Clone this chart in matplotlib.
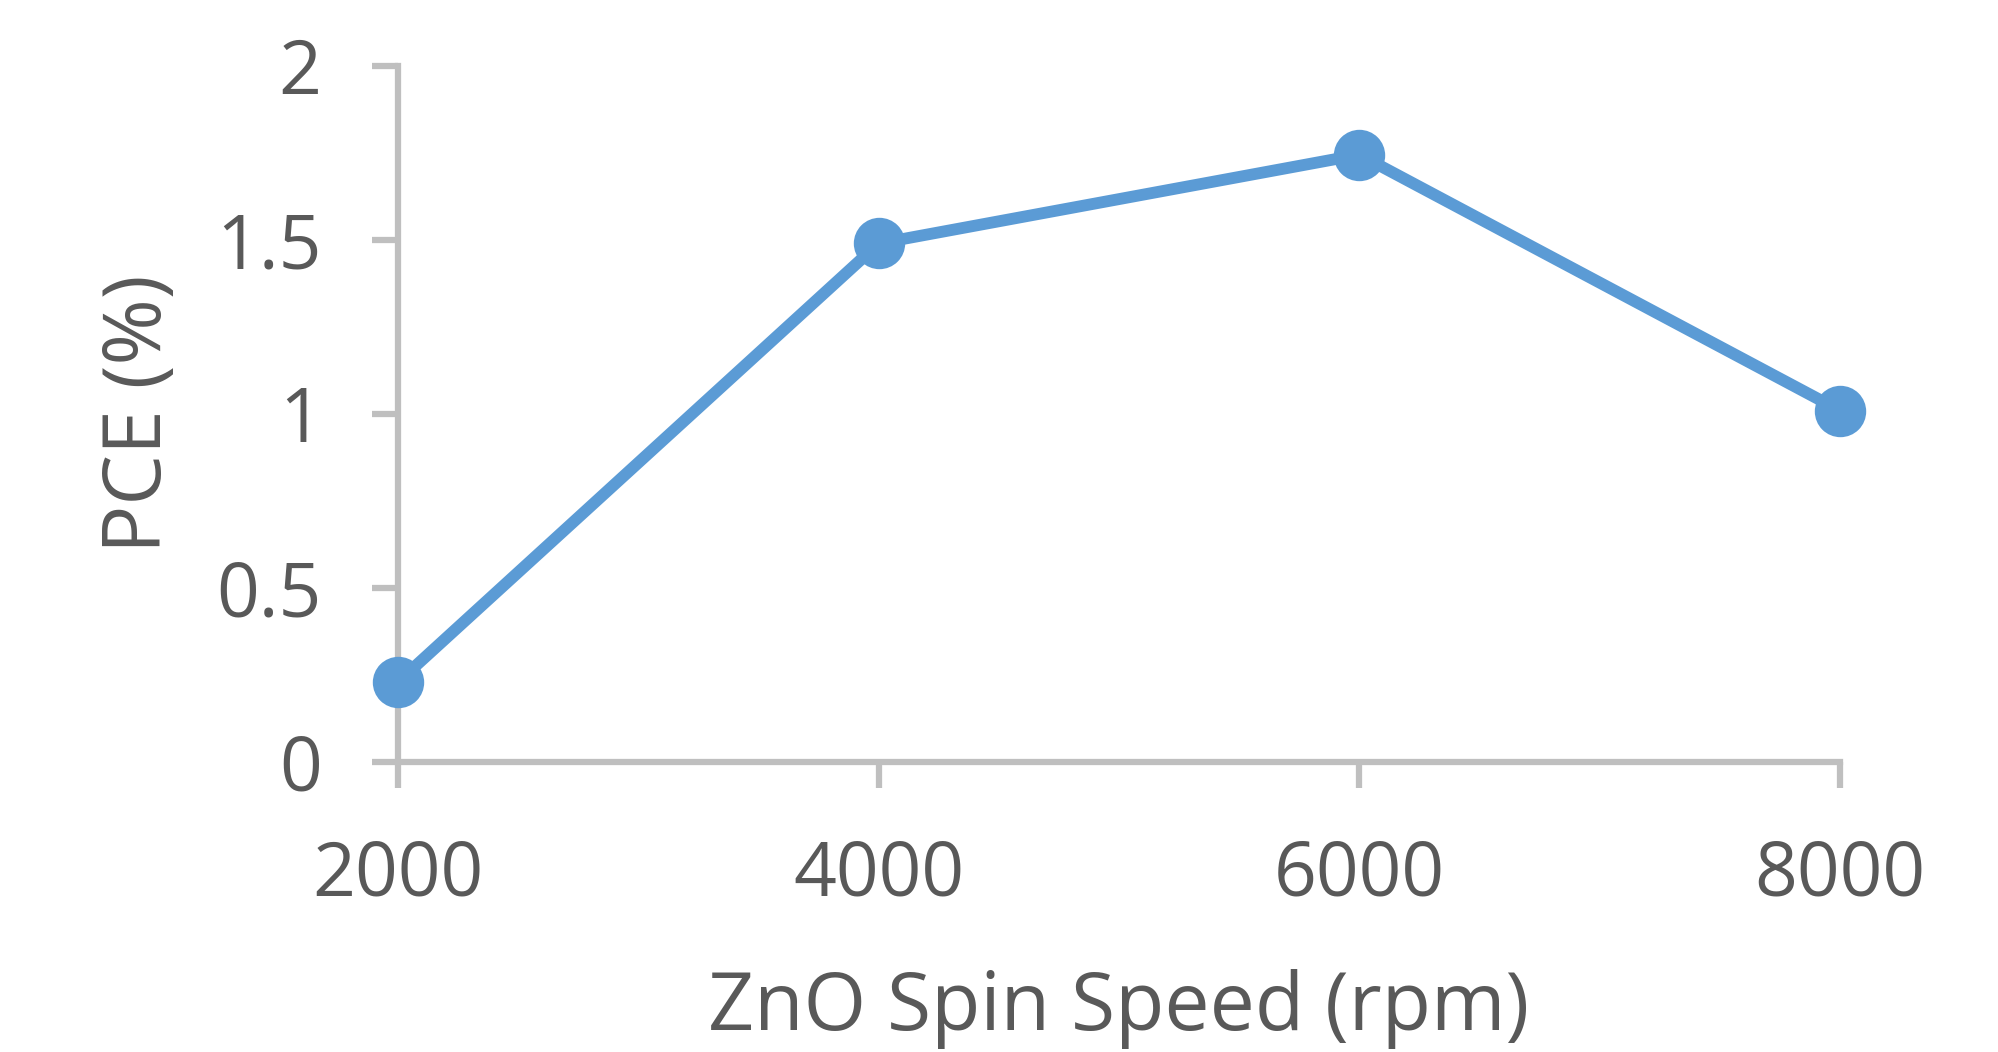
import matplotlib
matplotlib.use('Agg')
import matplotlib.pyplot as plt

matplotlib.rcParams['font.family'] = ['Open Sans', 'DejaVu Sans']

# 数据
spin_speed = [2000, 4000, 6000, 8000]
pce = [0.23, 1.49, 1.745, 1.01]
x_ticks = [2000, 4000, 6000, 8000]
y_ticks = [0, 0.5, 1, 1.5, 2]
y_ticklabels = ['0', '0.5', '1', '1.5', '2']

text_color = '#595959'
axis_color = '#BFBFBF'
line_color = '#5B9BD5'

W, H = 1998, 1052
fig = plt.figure(figsize=(W / 100, H / 100), dpi=100)
ax = fig.add_axes([398 / W, 1 - 762 / H, (1840 - 398) / W, (762 - 66) / H])

ax.plot(spin_speed, pce, color=line_color, linewidth=8.5, marker='o',
        markersize=37, markeredgewidth=0, solid_joinstyle='round',
        clip_on=False, zorder=3)

ax.set_xlim(2000, 8000)
ax.set_ylim(0, 2)
ax.set_xticks(x_ticks)
ax.set_yticks(y_ticks)
ax.set_yticklabels(y_ticklabels)

for side in ['top', 'right']:
    ax.spines[side].set_visible(False)
for side in ['left', 'bottom']:
    ax.spines[side].set_color(axis_color)
    ax.spines[side].set_linewidth(4.5)

ax.tick_params(axis='both', direction='out', length=19, width=4.5, color=axis_color,
               labelsize=54, labelcolor=text_color, pad=36)

ax.set_xlabel('ZnO Spin Speed (rpm)', fontsize=58, color=text_color, labelpad=40)
ax.set_ylabel('PCE (%)', fontsize=58, color=text_color, labelpad=26)

fig.savefig('out.png', dpi=100)
plt.close(fig)
